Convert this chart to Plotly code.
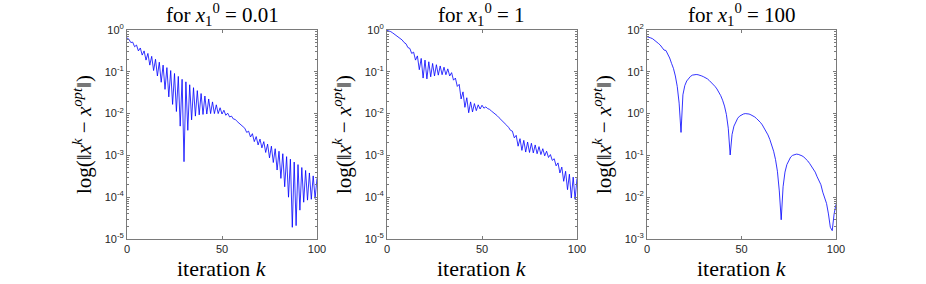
import numpy as np
import plotly.graph_objects as go

# iteration index k
iterations = list(range(101))

# log10 of ||x^k - x^opt|| (k = 0..100)
log10_err_x0_001 = [
    -0.19, -0.22, -0.30, -0.29, -0.40, -0.36, -0.50, -0.43, -0.60, -0.50,
    -0.72, -0.56, -0.84, -0.63, -0.97, -0.70, -1.10, -0.77, -1.25, -0.84,
    -1.42, -0.90, -1.60, -0.97, -1.78, -1.04, -1.95, -1.11, -2.30, -1.18,
    -3.15, -1.24, -2.40, -1.31, -2.15, -1.38, -2.06, -1.45, -2.03, -1.52,
    -2.02, -1.58, -2.01, -1.65, -2.00, -1.72, -2.00, -1.79, -2.00, -1.86,
    -2.01, -1.92, -2.04, -1.99, -2.08, -2.06, -2.13, -2.14, -2.19, -2.23,
    -2.27, -2.33, -2.35, -2.45, -2.42, -2.56, -2.48, -2.67, -2.55, -2.75,
    -2.61, -2.82, -2.67, -2.93, -2.73, -3.06, -2.78, -3.17, -2.84, -3.35,
    -2.90, -3.55, -2.96, -3.75, -3.03, -4.00, -3.09, -4.72, -3.16, -4.68,
    -3.22, -4.31, -3.29, -4.12, -3.36, -4.07, -3.42, -4.05, -3.49, -4.03,
    -3.55,
]

log10_err_x0_1 = [
    -0.01, -0.02, -0.04, -0.07, -0.10, -0.14, -0.17, -0.21, -0.24, -0.30,
    -0.33, -0.42, -0.44, -0.56, -0.53, -0.72, -0.62, -0.95, -0.68, -1.15,
    -0.72, -1.17, -0.76, -1.12, -0.80, -1.10, -0.83, -1.08, -0.86, -1.07,
    -0.89, -1.07, -0.93, -1.10, -1.02, -1.20, -1.15, -1.35, -1.30, -1.65,
    -1.48, -1.85, -1.62, -1.98, -1.72, -1.96, -1.76, -1.93, -1.79, -1.89,
    -1.80, -1.87, -1.84, -1.88, -1.90, -1.94, -1.97, -2.01, -2.05, -2.10,
    -2.14, -2.19, -2.24, -2.28, -2.33, -2.40, -2.42, -2.58, -2.52, -2.78,
    -2.60, -2.88, -2.64, -2.92, -2.68, -2.93, -2.71, -2.94, -2.75, -2.96,
    -2.79, -2.98, -2.84, -3.01, -2.90, -3.05, -2.98, -3.12, -3.08, -3.25,
    -3.18, -3.42, -3.28, -3.62, -3.38, -3.82, -3.45, -4.02, -3.52, -4.05,
    -3.55,
]

log10_err_x0_100 = [
    1.84, 1.83, 1.81, 1.79, 1.76, 1.72, 1.68, 1.64, 1.58, 1.52,
    1.51, 1.43, 1.33, 1.20, 1.08, 0.90, 0.65, 0.25, -0.45, 0.45,
    0.67, 0.78, 0.85, 0.89, 0.92, 0.93, 0.935, 0.93, 0.92, 0.90,
    0.88, 0.86, 0.83, 0.79, 0.75, 0.70, 0.65, 0.59, 0.52, 0.43,
    0.32, 0.18, -0.02, -0.35, -0.99, -0.50, -0.30, -0.19, -0.11, -0.06,
    -0.03, -0.01, 0.00, 0.00, -0.01, -0.03, -0.05, -0.08, -0.12, -0.16,
    -0.21, -0.27, -0.34, -0.42, -0.51, -0.62, -0.75, -0.90, -1.10, -1.38,
    -1.85, -2.54, -1.75, -1.40, -1.22, -1.11, -1.04, -1.00, -0.98, -0.97,
    -0.975, -0.99, -1.01, -1.04, -1.08, -1.13, -1.19, -1.26, -1.33, -1.40,
    -1.51, -1.60, -1.70, -1.88, -2.00, -2.15, -2.40, -2.72, -2.80, -2.40,
    -2.17,
]

start_values = ["0.01", "1", "100"]
panels = [log10_err_x0_001, log10_err_x0_1, log10_err_x0_100]
y_decades = [(-5, 0), (-5, 0), (-3, 2)]
x_ticks = [0, 50, 100]

W, H = 926, 284
M_T, M_B = 30, 45
plot_h = H - M_T - M_B
x_px = [(127, 317), (387, 577), (647, 836)]

axis_col = "#7a7a7a"
label_col = "#262626"
serif = "Liberation Serif, Times New Roman, serif"
sans = "Liberation Sans, Arial, sans-serif"

fig = go.Figure()
annotations = []
for i, (vals, start, (lo, hi), (x0, x1)) in enumerate(zip(panels, start_values, y_decades, x_px)):
    n = "" if i == 0 else str(i + 1)
    fig.add_trace(go.Scatter(
        x=iterations, y=np.power(10.0, np.array(vals)), mode="lines",
        line=dict(color="#0000ff", width=0.8),
        xaxis="x" + n, yaxis="y" + n, showlegend=False, hoverinfo="skip",
    ))
    major = [10.0 ** e for e in range(lo, hi + 1)]
    minor = [m * 10.0 ** e for e in range(lo, hi) for m in range(2, 10)]
    fig.update_layout(**{
        "xaxis" + n: dict(
            domain=[x0 / W, x1 / W], anchor="y" + n, range=[0, 100],
            tickvals=x_ticks, ticks="inside", ticklen=3, tickcolor=axis_col,
            showline=True, linecolor=axis_col, linewidth=1, mirror="ticks",
            showgrid=False, zeroline=False, automargin=False,
            tickfont=dict(family=sans, size=11, color=label_col),
        ),
        "yaxis" + n: dict(
            domain=[0, 1], anchor="x" + n, type="log", range=[lo, hi],
            tickmode="array", tickvals=major,
            ticktext=["10<sup>%d</sup>" % e for e in range(lo, hi + 1)],
            ticks="inside", ticklen=3, tickcolor=axis_col,
            minor=dict(tickmode="array", tickvals=minor, ticks="inside",
                       ticklen=2, tickcolor=axis_col),
            showline=True, linecolor=axis_col, linewidth=1, mirror="ticks",
            showgrid=False, zeroline=False, automargin=False,
            tickfont=dict(family=sans, size=11, color=label_col),
        ),
    })
    cx = (x0 + x1) / 2 / W
    annotations.append(dict(
        text="for <i>x</i><sub>1</sub><sup>0</sup> = " + start,
        x=cx, y=1 + (M_T - 14) / plot_h, xref="paper", yref="paper",
        xanchor="center", yanchor="middle", showarrow=False,
        font=dict(family=serif, size=21, color="#000000"),
    ))
    annotations.append(dict(
        text="iteration <i>k</i>",
        x=cx, y=-(268 - (H - M_B)) / plot_h, xref="paper", yref="paper",
        xanchor="center", yanchor="middle", showarrow=False,
        font=dict(family=serif, size=22, color="#000000"),
    ))
    annotations.append(dict(
        text="log(‖<i>x</i><sup><i>k</i></sup> − <i>x</i><sup><i>opt</i></sup>‖)",
        x=(x0 - 45) / W, y=(H - M_B - 135) / plot_h, xref="paper", yref="paper",
        xanchor="center", yanchor="middle", showarrow=False, textangle=-90,
        font=dict(family=serif, size=21, color="#000000"),
    ))

fig.update_layout(
    width=W, height=H, margin=dict(l=0, r=0, t=M_T, b=M_B),
    paper_bgcolor="#ffffff", plot_bgcolor="#ffffff",
    annotations=annotations,
)

fig.write_html(
    "out.html",
    config={"displayModeBar": False},
    post_script="document.documentElement.style.margin='0';"
                "document.body.style.margin='0';document.body.style.padding='0';",
)
